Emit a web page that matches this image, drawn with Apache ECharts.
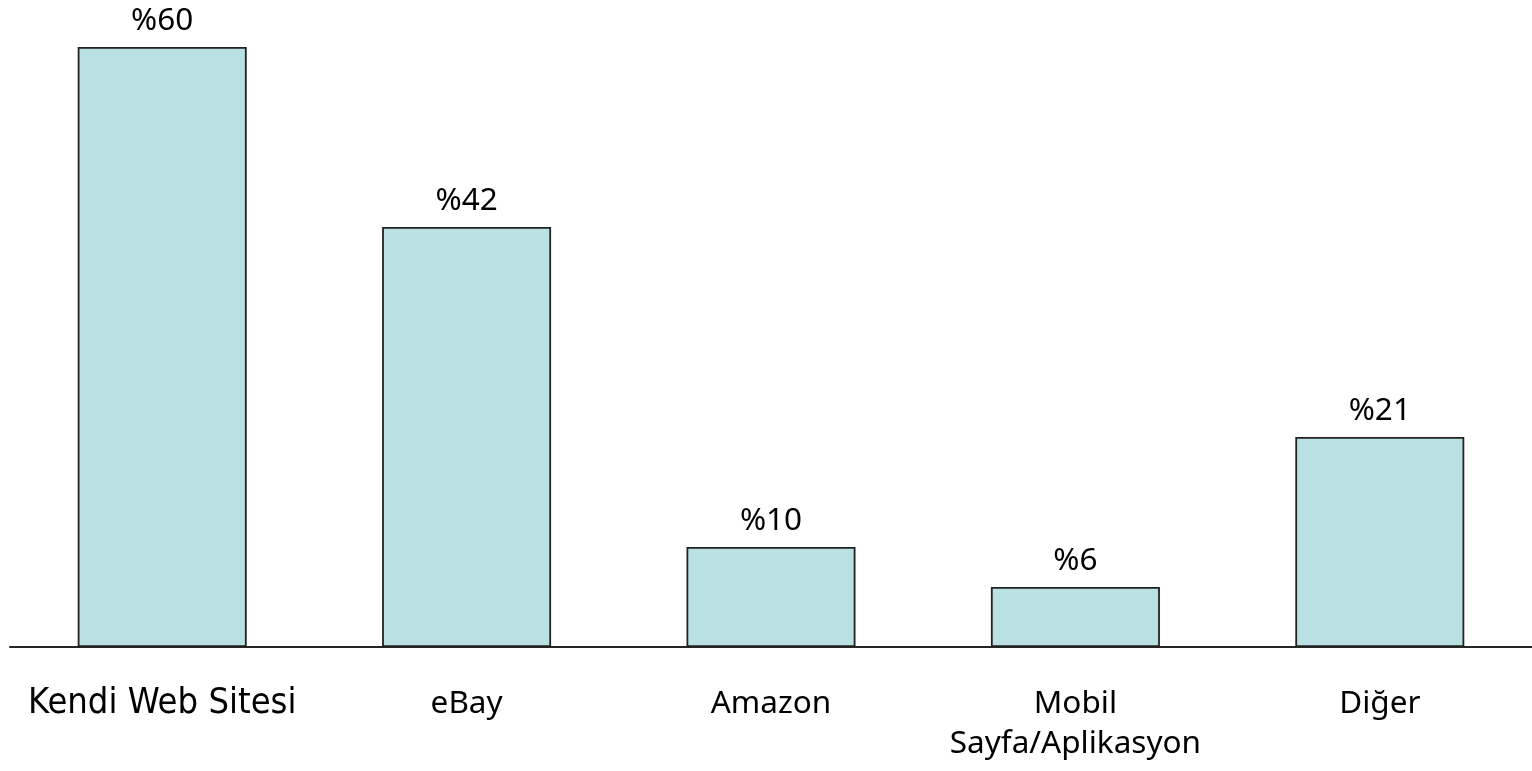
<!DOCTYPE html>
<html>
<head>
<meta charset="utf-8">
<script src="https://cdn.jsdelivr.net/npm/echarts@6/dist/echarts.min.js"></script>
<style>html,body{margin:0;padding:0;background:#fff}#c{width:1532px;height:771px}</style>
</head>
<body>
<div id="c"></div>
<script>
const categories = ['Kendi Web Sitesi', 'eBay', 'Amazon', 'Mobil\nSayfa/Aplikasyon', 'Diğer'];
const values = [60, 42, 10, 6, 21];
const valueLabels = ['%60', '%42', '%10', '%6', '%21'];

const chart = echarts.init(document.getElementById('c'), null, {renderer: 'canvas'});
chart.setOption({
  animation: false,
  backgroundColor: '#ffffff',
  grid: {left: 10, top: 47, width: 1525, height: 600, containLabel: false},
  xAxis: {
    type: 'category',
    data: categories,
    boundaryGap: true,
    axisLine: {show: true, lineStyle: {color: '#262626', width: 2}},
    axisTick: {show: false},
    axisLabel: {
      interval: 0,
      margin: 37,
      color: '#000000',
      fontFamily: '"Noto Sans", sans-serif',
      fontSize: 31.5,
      lineHeight: 40,
      formatter: function (v, i) {
        return i === 0 ? '{a|' + v + '}' : v;
      },
      rich: {
        a: {fontFamily: '"DejaVu Sans Condensed", "DejaVu Sans", sans-serif', fontSize: 36, lineHeight: 40, color: '#000000'}
      }
    }
  },
  yAxis: {
    type: 'value', min: 0, max: 60, interval: 10, show: false,
    splitLine: {show: false}
  },
  series: [{
    type: 'bar',
    data: values,
    barWidth: 169,
    itemStyle: {color: '#b9e0e2', borderColor: '#222222', borderWidth: 1.8},
    label: {
      show: true,
      position: 'top',
      distance: 10,
      color: '#000000',
      fontFamily: '"Noto Sans", sans-serif',
      fontSize: 31.5,
      formatter: function (p) { return valueLabels[p.dataIndex]; }
    }
  }]
});
</script>
</body>
</html>
